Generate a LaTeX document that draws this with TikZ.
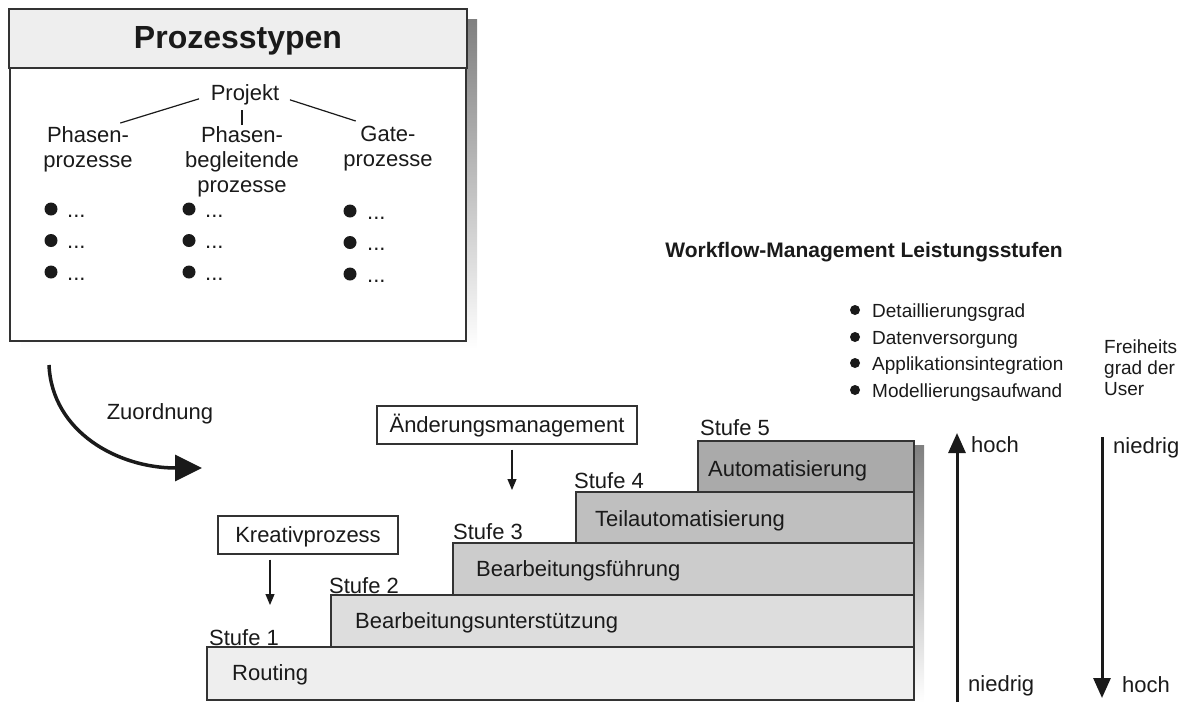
\documentclass[tikz,border=0pt]{standalone}
\usepackage{fontspec}
\setmainfont{Liberation Sans}
\usetikzlibrary{arrows.meta}
\definecolor{ink}{HTML}{1A1A1A}
\definecolor{edge}{HTML}{333333}
\definecolor{band}{HTML}{EEEEEE}
\definecolor{shade}{HTML}{999999}
\definecolor{sa}{HTML}{EEEEEE}
\definecolor{sb}{HTML}{DDDDDD}
\definecolor{sc}{HTML}{CCCCCC}
\definecolor{sd}{HTML}{BFBFBF}
\definecolor{se}{HTML}{AAAAAA}
\begin{document}
\begin{tikzpicture}[x=1pt,y=-1pt,
  txt/.style={inner sep=0pt, text=ink, font=\fontsize{22}{25}\selectfont},
  smalltxt/.style={inner sep=0pt, text=ink, font=\fontsize{19}{21}\selectfont},
  frame/.style={draw=edge, line width=1.6pt},
  labelbox/.style={draw=edge, line width=1.3pt, fill=white, minimum height=38pt, text height=15.8pt, text depth=0pt, txt},
  treeline/.style={draw=ink, line width=1.2pt},
  dot/.style={fill=ink},
  smallarrow/.style={draw=ink, line width=1.2pt, -{Triangle[length=11pt,width=9pt]}},
  bigarrow/.style={draw=ink, line width=3.5pt, -{Triangle[length=27pt,width=26pt]}},
  vertarrow/.style={draw=ink, line width=3pt, -{Triangle[length=20pt,width=17pt]}}
]
\useasboundingbox (0,0) rectangle (1184,702);

% ---------- Prozesstypen box ----------
\fill[shade] (21,19) rectangle (477,349);
\node[frame, fill=white, minimum width=456pt, minimum height=331pt, inner sep=0pt] (ptbox) at (238,175.5) {};
\path[frame, fill=band] (ptbox.north west) rectangle ([yshift=-59pt]ptbox.north east);
\node[inner sep=0pt, text=ink, font=\bfseries\fontsize{32}{36}\selectfont, anchor=base] (ptitle) at (238,48) {Prozesstypen};

\node[txt, anchor=base] (projekt) at (245,100.5) {Projekt};
\node[txt, align=center, anchor=north] (col1) at (88,126) {Phasen-\\prozesse};
\node[txt, align=center, anchor=north] (col2) at (242,126) {Phasen-\\begleitende\\prozesse};
\node[txt, align=center, anchor=north] (col3) at (388,126) {Gate-\\prozesse};

\draw[treeline] ([xshift=-12.5pt,yshift=3pt]col1.north east) -- ([xshift=-11.5pt,yshift=-4pt]projekt.west);
\draw[treeline] ([yshift=1pt]col2.north) -- ([yshift=16pt]col2.north);
\draw[treeline] ([xshift=10.5pt,yshift=-5pt]projekt.east) -- ([xshift=12.5pt,yshift=5pt]col3.north west);

\foreach \i/\bx/\dx/\by in {1/51/67/209, 2/189/205/209, 3/350/367/211}{
  \foreach \j/\dy in {0/0, 1/31.5, 2/63}{
    \fill[dot] (\bx,\by+\dy) circle (6.5pt);
    \node[txt, anchor=base west] (dots\i\j) at (\dx,\by+\dy+8) {...};
  }
}

% ---------- Zuordnung ----------
\coordinate (z1) at (49,365);
\coordinate (z2) at (202,468);
\draw[bigarrow] (z1) .. controls (52,432) and (118,468) .. (z2);
\node[txt, anchor=base] (zuord) at (160,419) {Zuordnung};

% ---------- Label boxes ----------
\node[labelbox, minimum width=180pt] (kreativ) at (308,535) {Kreativprozess};
\coordinate (k1) at (270,605);
\draw[smallarrow] (kreativ.south -| k1) ++(0,5) -- (k1);

\node[labelbox, minimum width=260pt] (aend) at (507,425) {Änderungsmanagement};
\coordinate (a1) at (512,490);
\draw[smallarrow] (aend.south -| a1) ++(0,5) -- (a1);

% ---------- Staircase ----------
\fill[shade] (914,445) rectangle (924,702);
\draw[frame, fill=sa] (207,647) rectangle (914,700);
\draw[frame, fill=sb] (331,595) rectangle (914,647);
\draw[frame, fill=sc] (453,543) rectangle (914,595);
\draw[frame, fill=sd] (576,492) rectangle (914,543);
\draw[frame, fill=se] (698,441) rectangle (914,492);

\node[txt, anchor=base west] (stufe1) at (209,645) {Stufe 1};
\node[txt, anchor=base west] (stufe2) at (329,593) {Stufe 2};
\node[txt, anchor=base west] (stufe3) at (453,539) {Stufe 3};
\node[txt, anchor=base west] (stufe4) at (574,488) {Stufe 4};
\node[txt, anchor=base west] (stufe5) at (700,435) {Stufe 5};

\node[txt, anchor=base west] (routing) at (232,680) {Routing};
\node[txt, anchor=base west] (bunt) at (355,628) {Bearbeitungsunterstützung};
\node[txt, anchor=base west] (bfuehr) at (476,576) {Bearbeitungsführung};
\node[txt, anchor=base west] (teil) at (595,526) {Teilautomatisierung};
\node[txt, anchor=base west] (auto) at (708,476) {Automatisierung};

% ---------- Right side ----------
\node[inner sep=0pt, text=ink, font=\bfseries\fontsize{21}{25}\selectfont, anchor=base east] (wtitle) at (1063,257) {Workflow-Management Leistungsstufen};

\foreach \k/\t/\yy in {1/Detaillierungsgrad/310, 2/Datenversorgung/337, 3/Applikationsintegration/363, 4/Modellierungsaufwand/390}{
  \fill[dot] (855,\yy) circle (5pt);
  \node[smalltxt, anchor=base west] (crit\k) at (872,\yy+7) {\t};
}

\node[smalltxt, align=left, anchor=north west] (freiheit) at (1104,340) {Freiheits\\grad der\\User};

\coordinate (u0) at (957,702);
\coordinate (u1) at (957,433);
\draw[vertarrow] (u0) -- (u1);
\node[txt, anchor=base west] (hochA) at (971,452) {hoch};
\node[txt, anchor=base west] (niedrigA) at (968,691) {niedrig};

\coordinate (d0) at (1102,437);
\coordinate (d1) at (1102,698);
\draw[vertarrow] (d0) -- (d1);
\node[txt, anchor=base west] (niedrigB) at (1113,453) {niedrig};
\node[txt, anchor=base west] (hochB) at (1122,692) {hoch};
\end{tikzpicture}
\end{document}
